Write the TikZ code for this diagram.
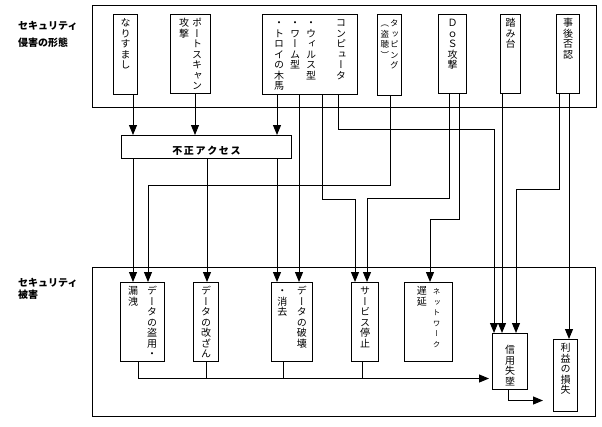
\documentclass[tikz,border=0pt]{standalone}
\usepackage{fontspec}
\usepackage{tikz}
\usetikzlibrary{arrows.meta}
\newfontfamily\jpfont{Noto Sans CJK JP}
\newfontfamily\vfont{Noto Sans CJK JP}[RawFeature=+vert]
% one column of vertical text, one character per row
\newcommand\vcol[1]{\vtop{\lineskiplimit=-\maxdimen\halign{\hfil##\hfil\cr\vcolnext#1\relax}}}
\newcommand\vcolnext[1]{\ifx#1\relax\crcr\else#1\cr\expandafter\vcolnext\fi}

\begin{document}
\begin{tikzpicture}[
    x=1pt, y=-1pt,
    outerbox/.style={draw, line width=0.8pt, inner sep=0pt, anchor=north west},
    vbox/.style={draw, line width=1pt, anchor=north west, inner xsep=1pt, inner ysep=0pt, text height=12pt, font=\vfont\fontsize{10}{10.5}\selectfont},
    fbox/.style={draw, line width=1pt, anchor=north west, inner ysep=2pt, text height=17pt, text depth=2pt, font=\jpfont\bfseries\fontsize{10}{12}\selectfont},
    lbl/.style={anchor=west, inner sep=0pt, align=left, font=\jpfont\bfseries\fontsize{10}{17}\selectfont},
    arr/.style={-{Triangle[width=8pt,length=10pt]}, line width=1pt},
    link/.style={line width=1pt}
]
\useasboundingbox (0,0) rectangle (602,426);

% Frames and side labels
\node[outerbox, minimum width=504pt, minimum height=102pt] (forms) at (92,5) {};
\node[outerbox, minimum width=503pt, minimum height=149pt] (damage) at (92,267) {};
\node[lbl] (formslbl) at (18,34.5) {セキュリティ\\侵害の形態};
\node[lbl, font=\jpfont\bfseries\fontsize{10}{12}\selectfont] (damagelbl) at (18,289) {セキュリティ\\被害};

% Top row
\node[vbox, minimum width=24pt, text depth=68pt] (nari) at (113,14) {\vcol{なりすまし}};
\node[vbox, minimum width=40pt, text depth=67pt] (port) at (170,14) {\vcol{攻撃}\hspace{3pt}\vcol{ポートスキャン}};
\node[vbox, minimum width=95pt, text depth=68pt] (comp) at (262,14) {\vcol{・トロイの木馬}\hspace{6pt}\vcol{・ワーム型}\hspace{6pt}\vcol{・ウィルス型}\hspace{20pt}\vcol{コンピュータ}};
\node[vbox, minimum width=24pt, text depth=69pt] (tap) at (377,14) {\fontsize{8.5}{10.5}\selectfont\vcol{（盗聴）}\hspace{1pt}\vcol{タッピング}};
\node[vbox, minimum width=28pt, text depth=67pt] (dos) at (438,14) {\vcol{ＤｏＳ攻撃}};
\node[vbox, minimum width=20pt, text depth=67pt] (fumi) at (500,14) {\vcol{踏み台}};
\node[vbox, minimum width=23pt, text depth=67pt] (jigo) at (556,14) {\vcol{事後否認}};

% Middle
\node[fbox, minimum width=170pt] (fusei) at (121,135) {不\,正\,ア\,ク\,セ\,ス};

% Bottom row
\node[vbox, minimum width=44pt, text depth=67pt] (rouei) at (120,282) {\vcol{漏洩}\hspace{9pt}\vcol{データの盗用・}};
\node[vbox, minimum width=25pt, text depth=67pt] (kaizan) at (193,282) {\vcol{データの改ざん}};
\node[vbox, minimum width=41pt, text depth=67pt] (hakai) at (271,282) {\vcol{・消去}\hspace{9.5pt}\vcol{データの破壊}};
\node[vbox, minimum width=27pt, text depth=67pt] (teishi) at (351,282) {\vcol{サービス停止}};
\node[vbox, minimum width=48pt, text depth=67pt] (net) at (404,282) {\vcol{遅延}\hspace{6pt}{\fontsize{7.5}{10.5}\selectfont\vcol{ネットワーク}}\hspace{8pt}};
\node[vbox, minimum width=35pt, text height=20pt, text depth=36pt] (shinyo) at (492,333) {\vcol{信用失墜}};
\node[vbox, minimum width=24pt, text depth=60pt] (rieki) at (553,339) {\vcol{利益の損失}};

% Arrows into 不正アクセス
\draw[arr] ([xshift=20pt]nari.south west) -- ([xshift=12pt]fusei.north west);
\draw[arr] ([xshift=25pt]port.south west) -- ([xshift=74pt]fusei.north west);
\draw[arr] ([xshift=15pt]comp.south west) -- ([xshift=156pt]fusei.north west);

% Arrows out of 不正アクセス
\draw[arr] ([xshift=12pt]fusei.south west) -- ([xshift=13pt]rouei.north west);
\draw[arr] ([xshift=86pt]fusei.south west) -- ([xshift=14pt]kaizan.north west);
\draw[arr] ([xshift=156pt]fusei.south west) -- ([xshift=6pt]hakai.north west);

% Direct arrows from the top row
\draw[arr] ([xshift=37pt]comp.south west) -- ([xshift=28pt]hakai.north west);
\draw[arr] ([xshift=60pt]comp.south west) -- ++(0,104) -| ([xshift=4pt]teishi.north west);
\draw[arr] ([xshift=76pt]comp.south west) -- ++(0,34) -| ([xshift=2pt]shinyo.north west);
\draw[arr] ([xshift=13pt]tap.south west) -- ++(0,89) -| ([xshift=28pt]rouei.north west);
\draw[arr] ([xshift=11pt]dos.south west) -- ++(0,104) -| ([xshift=16pt]teishi.north west);
\draw[arr] ([xshift=21pt]dos.south west) -- ++(0,125) -| ([xshift=26pt]net.north west);
\draw[arr] ([xshift=2pt]fumi.south west) -- ([xshift=10pt]shinyo.north west);
\draw[arr] ([xshift=3pt]jigo.south west) -- ++(0,95) -| ([xshift=24pt]shinyo.north west);
\draw[arr] ([xshift=13pt]jigo.south west) -- ([xshift=16pt]rieki.north west);

% Damage leads to 信用失墜, then 利益の損失
\draw[arr, shorten >=3pt] ([xshift=18pt]rouei.south west) |- ([yshift=-17pt]shinyo.west);
\draw[link] ([xshift=13pt]kaizan.south west) -- ++(0,17);
\draw[link] ([xshift=12pt]hakai.south west) -- ++(0,17);
\draw[link] ([xshift=11pt]teishi.south west) -- ++(0,17);
\draw[arr, shorten >=10pt] ([xshift=16pt]shinyo.south west) |- ([yshift=-25pt]rieki.west);

\end{tikzpicture}
\end{document}
